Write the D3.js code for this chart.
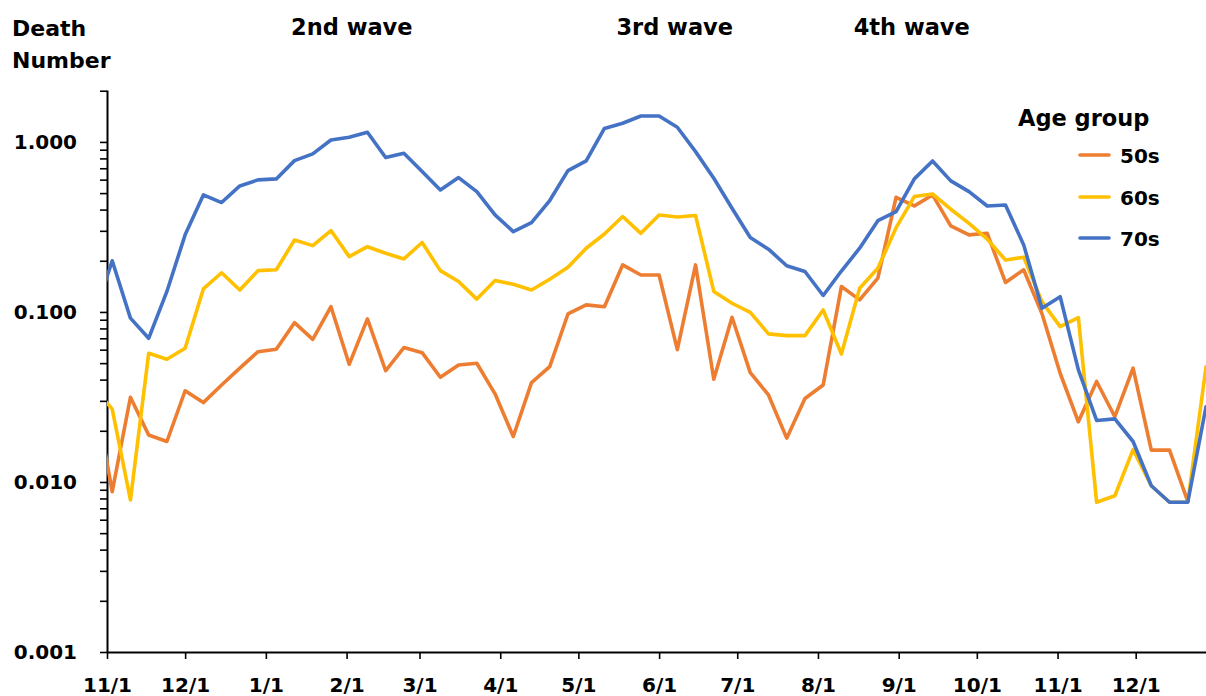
<!DOCTYPE html>
<html>
<head>
<meta charset="utf-8">
<script src="https://cdn.jsdelivr.net/npm/d3@7"></script>
<style>
  html, body { margin: 0; padding: 0; background: #fff; }
  svg { display: block; }
  text { font-family: "DejaVu Sans", Verdana, sans-serif; font-weight: bold; fill: #000; }
</style>
</head>
<body>
<svg id="chart" width="1206" height="696"></svg>
<script>
// ---- data ----
const weeks = ["2020-10-27","2020-11-03","2020-11-10","2020-11-17","2020-11-24","2020-12-01","2020-12-08","2020-12-15","2020-12-22","2020-12-29",
  "2021-01-05","2021-01-12","2021-01-19","2021-01-26","2021-02-02","2021-02-09","2021-02-16","2021-02-23","2021-03-02","2021-03-09",
  "2021-03-16","2021-03-23","2021-03-30","2021-04-06","2021-04-13","2021-04-20","2021-04-27","2021-05-04","2021-05-11","2021-05-18",
  "2021-05-25","2021-06-01","2021-06-08","2021-06-15","2021-06-22","2021-06-29","2021-07-06","2021-07-13","2021-07-20","2021-07-27",
  "2021-08-03","2021-08-10","2021-08-17","2021-08-24","2021-08-31","2021-09-07","2021-09-14","2021-09-21","2021-09-28","2021-10-05",
  "2021-10-12","2021-10-19","2021-10-26","2021-11-02","2021-11-09","2021-11-16","2021-11-23","2021-11-30","2021-12-07","2021-12-14",
  "2021-12-21","2021-12-28"];

const s50 = [0.035,0.00877,0.0315,0.0189,0.0173,0.0344,0.0293,0.0372,0.0467,0.0584,
  0.0603,0.0865,0.069,0.1074,0.0492,0.091,0.0451,0.0617,0.0576,0.0413,
  0.0488,0.0499,0.033,0.0185,0.0384,0.0477,0.0973,0.110,0.1074,0.189,
  0.165,0.165,0.060,0.189,0.0402,0.093,0.044,0.0325,0.0181,0.031,
  0.0372,0.141,0.1177,0.158,0.4726,0.420,0.488,0.321,0.284,0.290,
  0.149,0.177,0.098,0.0436,0.0226,0.039,0.0242,0.0467,0.0154,0.0154,
  0.0077,null];

const s60 = [0.036,0.0268,0.00784,0.0571,0.0527,0.0611,0.1365,0.170,0.1346,0.175,
  0.177,0.265,0.2455,0.301,0.2115,0.242,0.2215,0.205,0.256,0.175,
  0.151,0.119,0.153,0.1455,0.1346,0.1557,0.183,0.237,0.2875,0.364,
  0.290,0.372,0.362,0.369,0.132,0.1125,0.0995,0.0743,0.0726,0.0726,
  0.1027,0.0566,0.138,0.1807,0.313,0.477,0.494,0.402,0.332,0.268,
  0.202,0.210,0.115,0.082,0.0925,0.0076,0.0083,0.0155,0.0095,0.0076,
  0.0076,0.0475];

const s70 = [0.094,0.200,0.092,0.070,0.132,0.284,0.488,0.440,0.551,0.598,
  0.606,0.776,0.850,1.027,1.065,1.140,0.809,0.858,0.669,0.522,
  0.617,0.510,0.372,0.297,0.335,0.452,0.678,0.773,1.200,1.288,
  1.420,1.420,1.220,0.877,0.611,0.407,0.274,0.234,0.187,0.173,
  0.125,0.174,0.237,0.344,0.389,0.606,0.773,0.590,0.510,0.420,
  0.426,0.248,0.105,0.123,0.0456,0.0230,0.0235,0.0173,0.0095,0.0076,
  0.0076,0.0277];

const seriesNames = ["50s","60s","70s"];
const seriesColors = ["#ED7D31","#FFC000","#4472C4"];
const monthTicks = ["2020-11-01","2020-12-01","2021-01-01","2021-02-01","2021-03-01","2021-04-01","2021-05-01",
  "2021-06-01","2021-07-01","2021-08-01","2021-09-01","2021-10-01","2021-11-01","2021-12-01"];
const xDomain = ["2020-11-01","2021-12-28"];
const yDomain = [0.001, 2.02];
const waveLabels = [{t:"2nd wave", d:"2021-02-03"}, {t:"3rd wave", d:"2021-06-07"}, {t:"4th wave", d:"2021-09-06"}];

// ---- chart ----
const parse = d3.utcParse("%Y-%m-%d");
const svg = d3.select("#chart");
const L = 107, R = 1206, T = 90, B = 652;

const x = d3.scaleUtc().domain(xDomain.map(parse)).range([L, R]);
const y = d3.scaleLog().domain(yDomain).range([B, T]);

svg.append("rect").attr("width",1206).attr("height",696).attr("fill","#fff");

svg.append("defs").append("clipPath").attr("id","plotclip")
  .append("rect").attr("x", L).attr("y", 0).attr("width", R - L).attr("height", B);

// y axis
const yTicks = y.ticks().filter(v => v <= yDomain[1] + 1e-9);
const isPow10 = v => Math.abs(Math.log10(v) - Math.round(Math.log10(v))) < 1e-6;
const yAxis = d3.axisLeft(y).tickValues(yTicks).tickSize(7).tickSizeOuter(0).tickPadding(23)
  .tickFormat(v => isPow10(v) ? d3.format(".3f")(v) : "");
const gy = svg.append("g").attr("transform", `translate(${L},0)`).call(yAxis);
gy.select(".domain").attr("stroke","#000").attr("stroke-width",2);
gy.selectAll(".tick line").attr("stroke","#000").attr("stroke-width",1.6);
gy.selectAll(".tick text").attr("font-size",20).attr("font-family","DejaVu Sans").attr("font-weight","bold").attr("fill","#000");

// x axis
const xAxis = d3.axisBottom(x).tickValues(monthTicks.map(parse)).tickSize(7).tickSizeOuter(0).tickPadding(19)
  .tickFormat(d3.utcFormat("%-m/%-d"));
const gx = svg.append("g").attr("transform", `translate(0,${B})`).call(xAxis);
gx.select(".domain").attr("stroke","#000").attr("stroke-width",2);
gx.selectAll(".tick line").attr("stroke","#000").attr("stroke-width",1.6);
gx.selectAll(".tick text").attr("font-size",20).attr("font-family","DejaVu Sans").attr("font-weight","bold").attr("fill","#000");

// lines
const dates = weeks.map(parse);
const allSeries = [s50, s60, s70];
const line = d3.line()
  .defined(d => d[1] != null)
  .x(d => x(d[0]))
  .y(d => y(d[1]));
const gl = svg.append("g").attr("clip-path","url(#plotclip)");
allSeries.forEach((s, i) => {
  gl.append("path")
    .datum(dates.map((d, j) => [d, s[j]]))
    .attr("fill","none")
    .attr("stroke", seriesColors[i])
    .attr("stroke-width", 3.6)
    .attr("stroke-linejoin","round")
    .attr("stroke-linecap","round")
    .attr("d", line);
});

// titles
const yt = svg.append("text").attr("x", 12).attr("y", 36).attr("font-size", 22);
yt.append("tspan").attr("x", 12).attr("y", 36).text("Death");
yt.append("tspan").attr("x", 12).attr("y", 68).text("Number");

svg.selectAll(".wave").data(waveLabels).enter().append("text")
  .attr("class","wave")
  .attr("x", d => x(parse(d.d)))
  .attr("y", 35)
  .attr("text-anchor","middle")
  .attr("font-size", 22.5)
  .text(d => d.t);

// legend
const lg = svg.append("g");
lg.append("text").attr("x", 1018).attr("y", 126).attr("font-size", 22.5).text("Age group");
seriesNames.forEach((n, i) => {
  const ly = [155, 197, 238][i];
  lg.append("line").attr("x1", 1080).attr("x2", 1109).attr("y1", ly).attr("y2", ly)
    .attr("stroke", seriesColors[i]).attr("stroke-width", 3.6).attr("stroke-linecap","round");
  lg.append("text").attr("x", 1120).attr("y", ly + 7.5).attr("font-size", 20).text(n);
});
</script>
</body>
</html>
